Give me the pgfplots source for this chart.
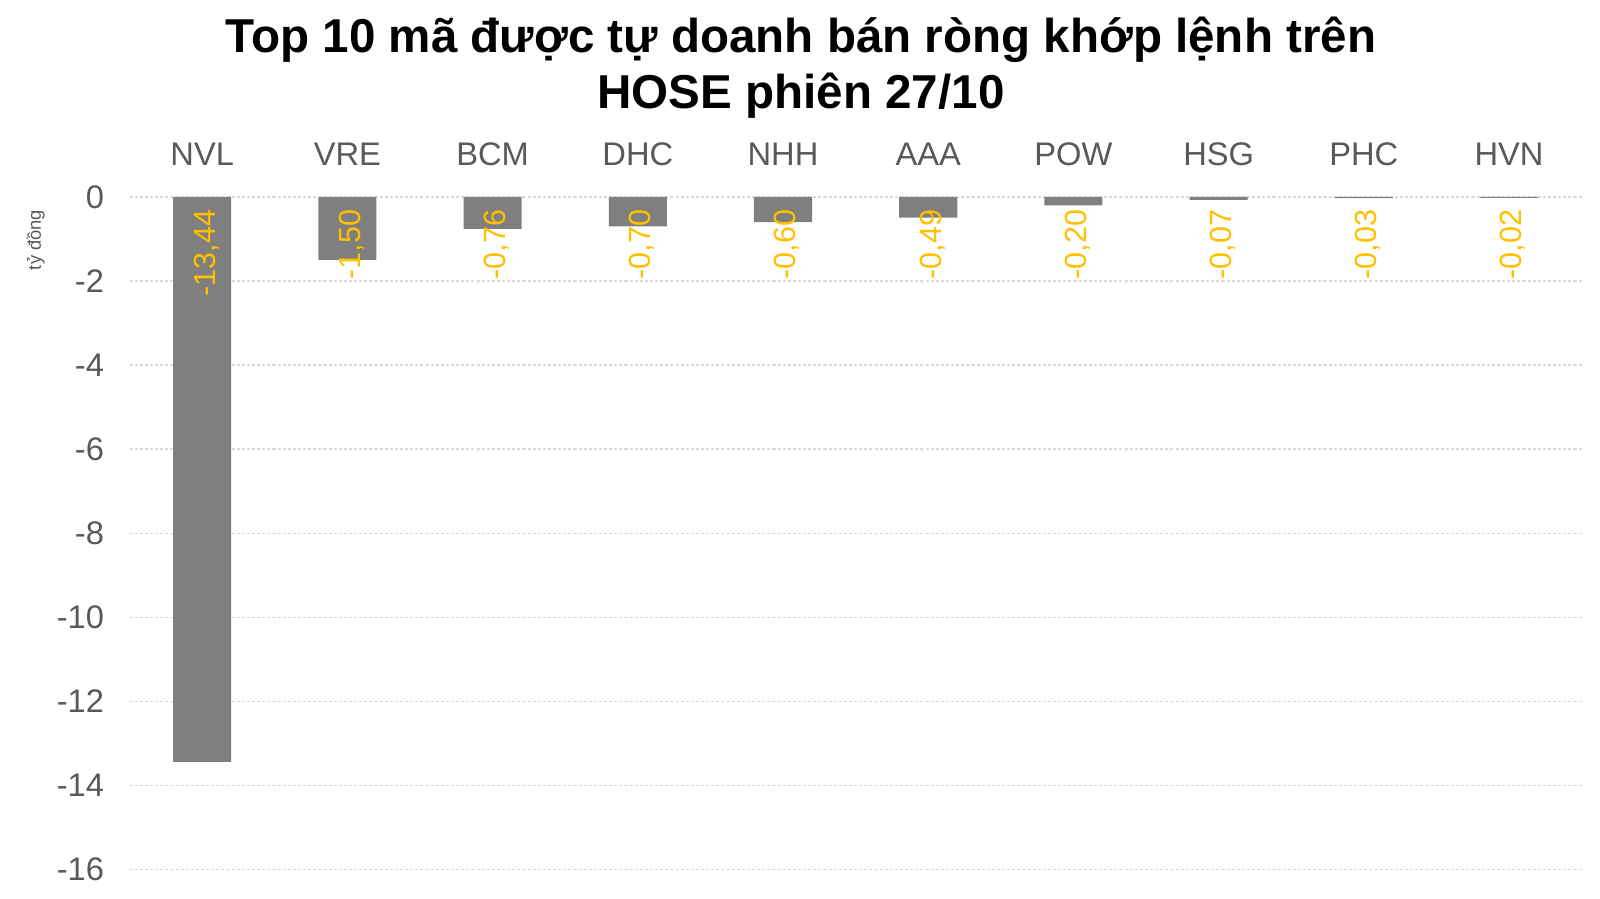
\documentclass[border=0pt]{standalone}
\usepackage{pgfplots}
\usepackage{pgfplotstable}
\pgfplotsset{compat=1.18}
\usepackage{fontspec}
\setmainfont{Liberation Sans}
\definecolor{barg}{HTML}{7F7F7F}
\definecolor{lblyel}{HTML}{FFC000}
\definecolor{txtg}{HTML}{595959}
\definecolor{gridg}{HTML}{D9D9D9}

\pgfplotstableread{
id  y
0   -13.44
1   -1.50
2   -0.76
3   -0.70
4   -0.60
5   -0.49
6   -0.20
7   -0.07
8   -0.03
9   -0.02
}\tudoanh

\begin{document}
\begin{tikzpicture}
  \path[use as bounding box] (-63.5pt,-14.5pt) rectangle (720.5pt,426pt);
  \begin{axis}[
    at={(0,0)}, anchor=south west,
    scale only axis,
    width=711.5pt, height=329.5pt,
    xmin=-0.5, xmax=9.5,
    ymin=-16, ymax=0,
    xtick=data,
    xticklabels={NVL,VRE,BCM,DHC,NHH,AAA,POW,HSG,PHC,HVN},
    xticklabel pos=upper,
    ytick={-16,-14,...,0},
    ymajorgrids=true,
    grid style={gridg, line width=0.6pt, dash pattern=on 1.5pt off 1pt},
    axis line style={draw=none},
    major tick length=0pt,
    xticklabel shift=12pt,
    yticklabel shift=9pt,
    /pgf/number format/assume math mode=true,
    ticklabel style={font=\fontsize{16}{19}\selectfont, text=txtg},
    xticklabel style={text height=11.5pt, text depth=0pt},
    ylabel={tỷ đồng},
    ylabel style={at={(rel axis cs:0,0.936)}, anchor=center, yshift=46pt,
      font=\fontsize{9}{11}\selectfont, text=txtg},
    clip=false,
  ]
    \addplot[ybar, bar width=0.4, fill=barg, draw=none] table[x=id, y=y]{\tudoanh};
    \addplot[draw=none, mark=none,
      nodes near coords,
      point meta=explicit,
      every node near coord/.style={rotate=90, anchor=east, inner sep=0pt,
        xshift=0pt, yshift=-2pt,
        text=lblyel, font=\fontsize{15}{18}\selectfont,
        /pgf/number format/.cd, fixed, fixed zerofill, precision=2, use comma,
        assume math mode=true},
    ] table[x=id, y expr=-0.3, meta=y]{\tudoanh};
  \end{axis}
  \node[align=center, font=\fontsize{23.3}{27.5}\selectfont\bfseries, anchor=center]
    at (329pt,393pt) {Top 10 mã được tự doanh bán ròng khớp lệnh trên\\HOSE phiên 27/10};
\end{tikzpicture}
\end{document}
